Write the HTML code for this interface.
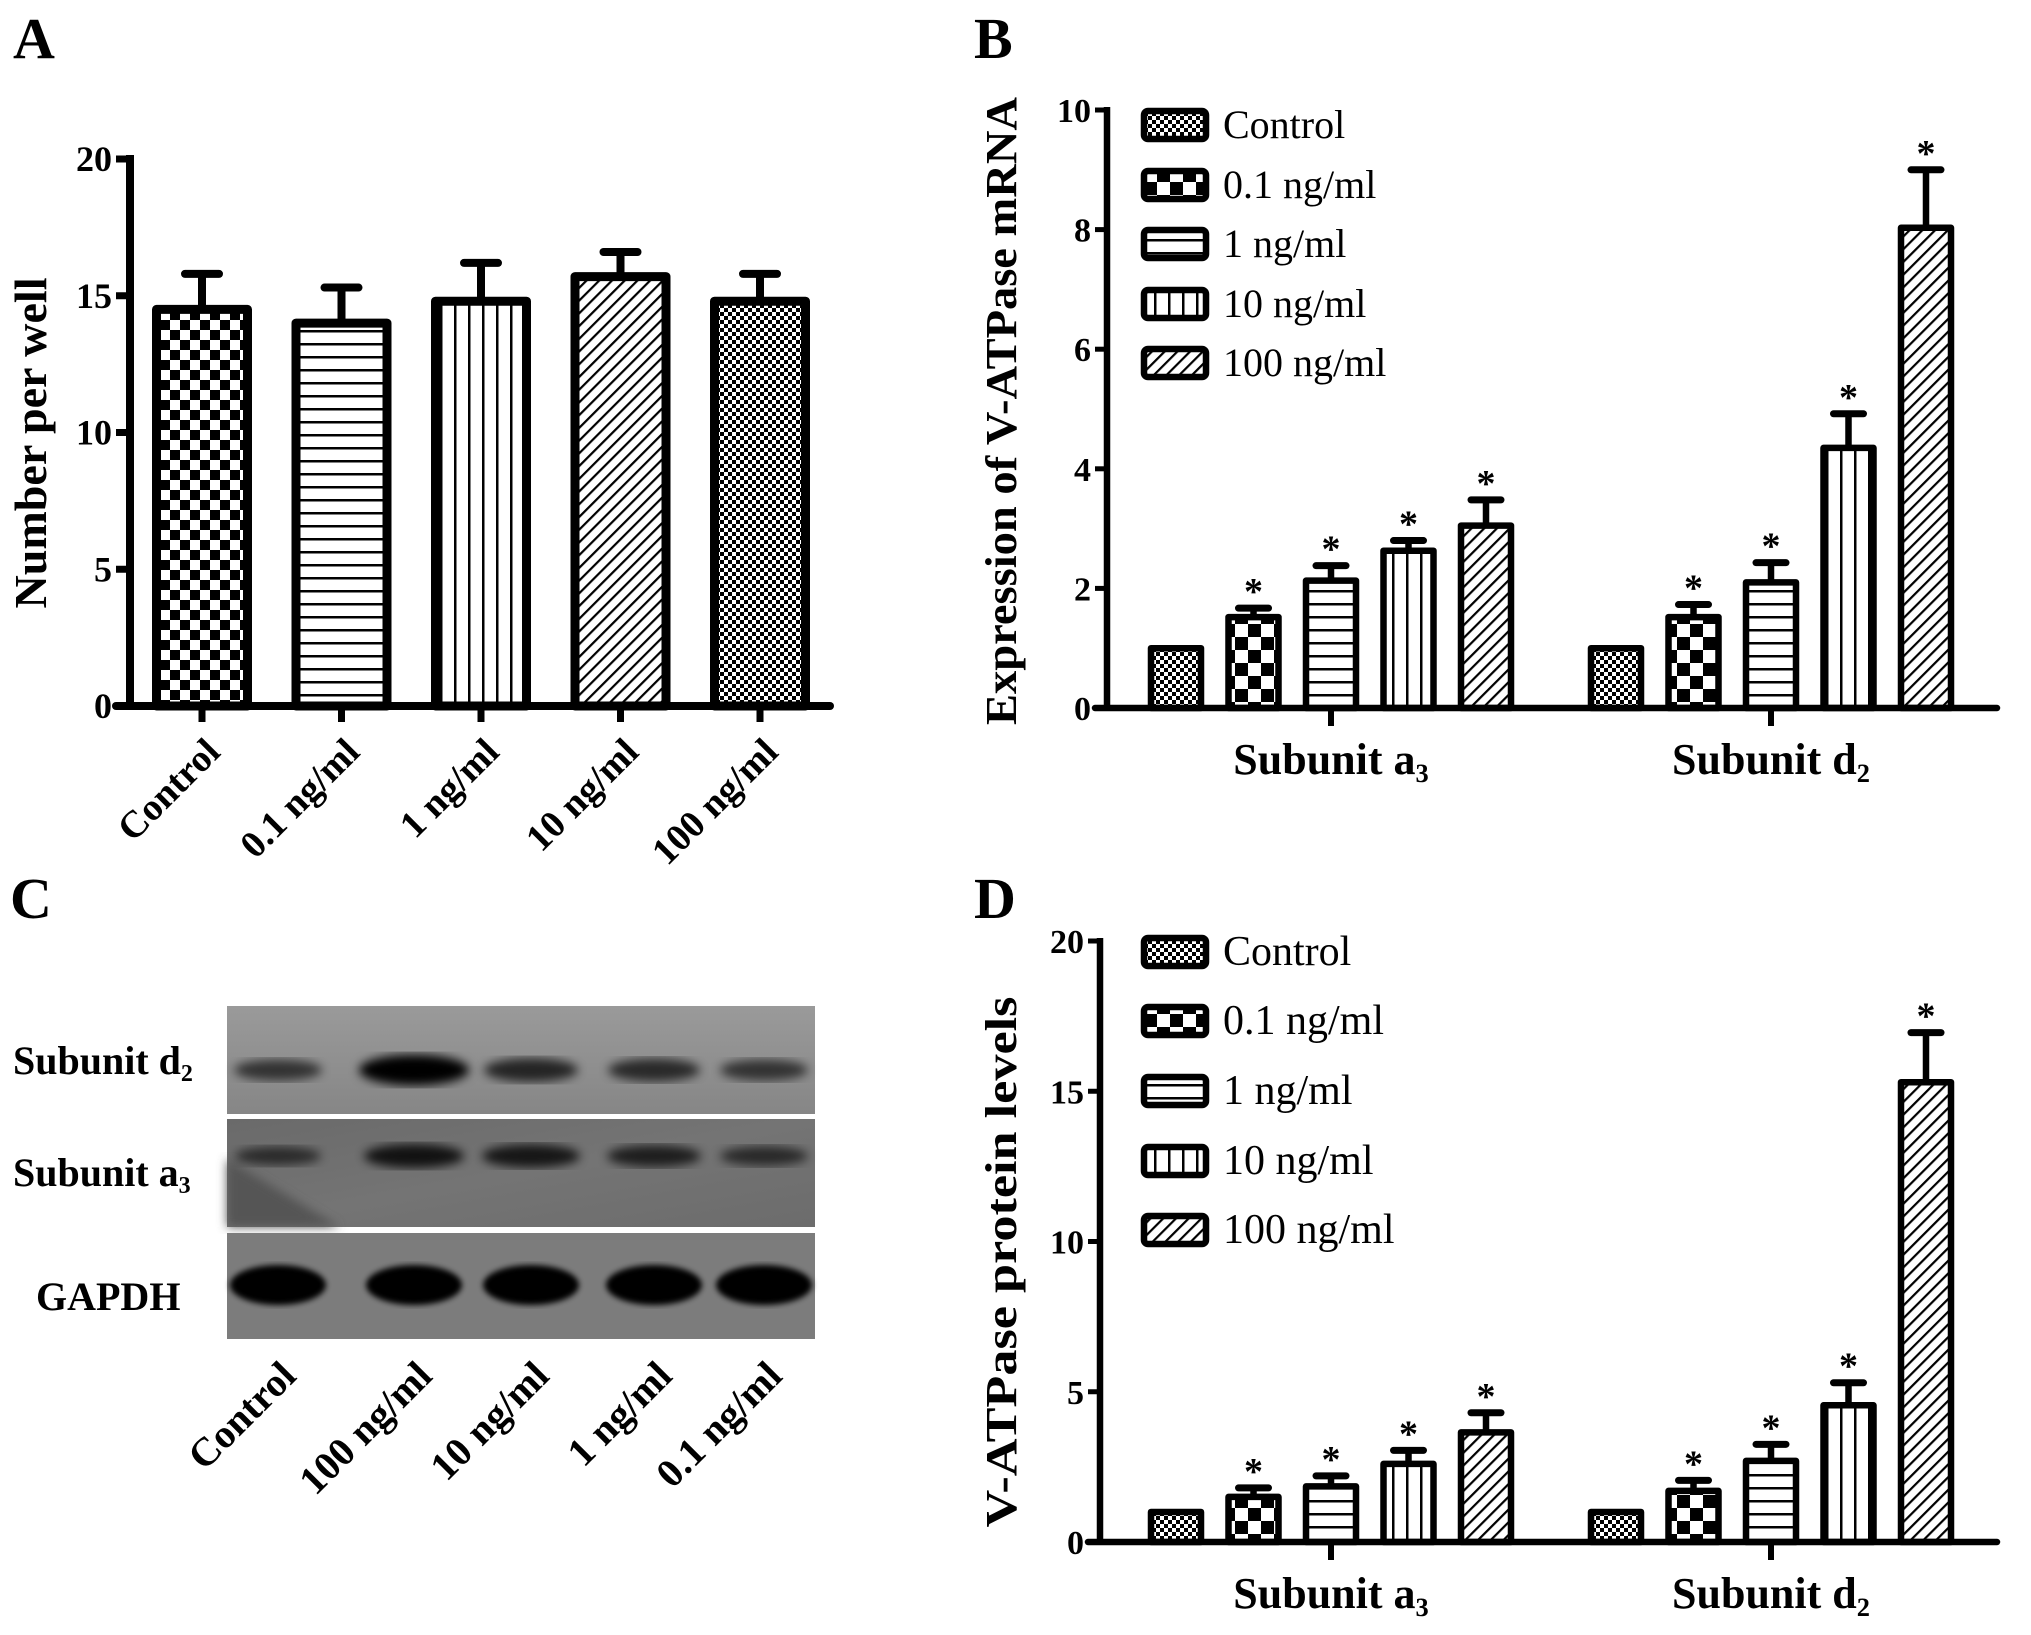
<!DOCTYPE html>
<html><head><meta charset="utf-8">
<style>
html,body{margin:0;padding:0;background:#fff;}
svg{display:block;font-family:"Liberation Serif","DejaVu Serif",serif;}
</style></head>
<body>
<svg id="fig" width="2031" height="1635" viewBox="0 0 2031 1635" xmlns="http://www.w3.org/2000/svg">
<defs>
  <pattern id="checkBig" width="20" height="20" patternUnits="userSpaceOnUse"><rect width="20" height="20" fill="#fff"/><rect width="10" height="10" fill="#000"/><rect x="10" y="10" width="10" height="10" fill="#000"/></pattern>
  <pattern id="checkBig2" width="26" height="26" patternUnits="userSpaceOnUse"><rect width="26" height="26" fill="#fff"/><rect width="13" height="13" fill="#000"/><rect x="13" y="13" width="13" height="13" fill="#000"/></pattern>
  <pattern id="checkFine" width="8" height="8" patternUnits="userSpaceOnUse"><rect width="8" height="8" fill="#fff"/><rect width="4" height="4" fill="#000"/><rect x="4" y="4" width="4" height="4" fill="#000"/></pattern>
  <pattern id="hlines" width="10" height="13" patternUnits="userSpaceOnUse"><rect width="10" height="13" fill="#fff"/><rect y="5" width="10" height="2.5" fill="#000"/></pattern>
  <pattern id="vlines" width="14" height="10" patternUnits="userSpaceOnUse"><rect width="14" height="10" fill="#fff"/><rect x="6" width="2.5" height="10" fill="#000"/></pattern>
  <pattern id="diag" width="9" height="9" patternUnits="userSpaceOnUse" patternTransform="rotate(45)"><rect width="9" height="9" fill="#fff"/><rect width="2.2" height="9" fill="#000"/></pattern>
  <filter id="blur4"><feGaussianBlur stdDeviation="5"/></filter>
  <filter id="blur2"><feGaussianBlur stdDeviation="3"/></filter>
  <linearGradient id="g1" x1="0" y1="0" x2="0" y2="1"><stop offset="0" stop-color="#9a9a9a"/><stop offset="1" stop-color="#868686"/></linearGradient>
  <linearGradient id="g2" x1="0" y1="0" x2="1" y2="1"><stop offset="0" stop-color="#6a6a6a"/><stop offset="0.5" stop-color="#747474"/><stop offset="1" stop-color="#6c6c6c"/></linearGradient>
</defs>
<g id="root"></g>
</svg>
<script>
// ---------- Panel A data ----------
const A_categories = ['Control','0.1 ng/ml','1 ng/ml','10 ng/ml','100 ng/ml'];
const A_values = [14.5, 14.0, 14.8, 15.7, 14.8];
const A_errors = [1.3, 1.3, 1.4, 0.9, 1.0];
const A_ticks = [0, 5, 10, 15, 20];
// ---------- Panel B data ----------
const B_groups = ['a3', 'd2'];
const B_series = ['Control','0.1 ng/ml','1 ng/ml','10 ng/ml','100 ng/ml'];
const B_a3_values = [1.0, 1.52, 2.13, 2.63, 3.05];
const B_a3_errors = [0, 0.15, 0.25, 0.17, 0.43];
const B_d2_values = [1.0, 1.52, 2.1, 4.35, 8.03];
const B_d2_errors = [0, 0.21, 0.33, 0.57, 0.97];
const B_sig = [0, 1, 1, 1, 1];
const B_ticks = [0, 2, 4, 6, 8, 10];
// ---------- Panel D data ----------
const D_a3_values = [1.0, 1.5, 1.85, 2.6, 3.65];
const D_a3_errors = [0, 0.3, 0.35, 0.45, 0.65];
const D_d2_values = [1.0, 1.7, 2.7, 4.55, 15.3];
const D_d2_errors = [0, 0.35, 0.55, 0.75, 1.65];
const D_sig = [0, 1, 1, 1, 1];
const D_ticks = [0, 5, 10, 15, 20];
// ---------- Panel C data ----------
const C_lanes = ['Control','100 ng/ml','10 ng/ml','1 ng/ml','0.1 ng/ml'];
const C_d2_intensity = [0.45, 1.0, 0.6, 0.55, 0.45];
const C_a3_intensity = [0.4, 0.75, 0.7, 0.6, 0.45];
const C_gapdh_intensity = [1, 1, 1, 1, 1];

const NS = 'http://www.w3.org/2000/svg';
const root = document.getElementById('root');
function mk(tag, attrs, parent){
  const e = document.createElementNS(NS, tag);
  for (const k in attrs) e.setAttribute(k, attrs[k]);
  (parent||root).appendChild(e);
  return e;
}
function txt(str, attrs, parent){ const t = mk('text', attrs, parent); t.textContent = str; return t; }
function subText(main, sub, attrs, parent){
  const t = mk('text', attrs, parent);
  t.appendChild(document.createTextNode(main));
  const s = document.createElementNS(NS,'tspan');
  s.setAttribute('font-size','0.6em'); s.setAttribute('dy','0.3em');
  s.textContent = sub; t.appendChild(s);
  return t;
}

[['A',13,58],['B',974,58],['C',10,918],['D',974,918]].forEach(p=>{
  const t = txt(p[0], {x:p[1], y:p[2], 'font-size':58, 'font-weight':'bold'});
  
  
});

// ================= Panel A =================
(function(){
  const g = mk('g', {});
  
  
  const x0 = 130, xEnd = 830, y0 = 706, y20 = 159, vmax = 20;
  const ys = v => y0 - (y0 - y20) * v / vmax;
  const xs = i => 202 + i * 139.5;
  const fills = ['url(#checkBig)','url(#hlines)','url(#vlines)','url(#diag)','url(#checkFine)'];
  A_values.forEach((v,i)=>{
    const c = xs(i), top = ys(v), et = ys(v + A_errors[i]);
    const eb = mk('line', {x1:c, y1:top, x2:c, y2:et, stroke:'#000','stroke-width':8}, g);
    
    
    mk('line', {x1:c-17, y1:et, x2:c+17, y2:et, stroke:'#000','stroke-width':8,'stroke-linecap':'round'}, g);
    const r = mk('rect', {x:c-45.5, y:top, width:91, height:y0-top, fill:fills[i], stroke:'#000','stroke-width':9,'stroke-linejoin':'round'}, g);
    
    
    mk('line', {x1:c, y1:y0, x2:c, y2:y0+16, stroke:'#000','stroke-width':7}, g);
    const lb = txt(A_categories[i], {x:0, y:0, 'font-size':38, 'font-weight':'bold', 'text-anchor':'end', transform:`translate(${c+20},${y0+48}) rotate(-45)`}, g);
    
    
  });
  const ya = mk('line', {x1:x0, y1:y20-4, x2:x0, y2:y0, stroke:'#000','stroke-width':8}, g);
  
  
  const xa = mk('line', {x1:x0-14, y1:y0, x2:xEnd, y2:y0, stroke:'#000','stroke-width':8,'stroke-linecap':'round'}, g);
  
  
  A_ticks.forEach(t=>{
    const y = ys(t);
    mk('line', {x1:x0-14, y1:y, x2:x0, y2:y, stroke:'#000','stroke-width':7}, g);
    const tl = txt(String(t), {x:x0-18, y:y+12, 'font-size':36, 'font-weight':'bold', 'text-anchor':'end'}, g);
    
    
  });
  const yt = txt('Number per well', {x:0, y:0, 'font-size':46, 'font-weight':'bold', 'text-anchor':'middle', textLength:331, lengthAdjust:'spacingAndGlyphs', transform:'translate(46,443) rotate(-90)'}, g);
  
  
})();

// ================= Grouped panels B & D =================
function groupedChart(cfg){
  const g = mk('g', {});
  
  
  const ys = v => cfg.y0 - (cfg.y0 - cfg.yTop) * v / cfg.vmax;
  const fills = ['url(#checkFine)','url(#checkBig2)','url(#hlines)','url(#vlines)','url(#diag)'];
  const groupCenters = [1331, 1771];
  const groups = [[cfg.a3v, cfg.a3e],[cfg.d2v, cfg.d2e]];
  groups.forEach((grp, gi)=>{
    const gc = groupCenters[gi];
    grp[0].forEach((v,i)=>{
      const c = gc + (i-2)*77.5, top = ys(v);
      if (grp[1][i] > 0){
        const et = ys(v + grp[1][i]);
        const eb = mk('line', {x1:c, y1:top, x2:c, y2:et, stroke:'#000','stroke-width':6.5}, g);
        
        
        mk('line', {x1:c-15, y1:et, x2:c+15, y2:et, stroke:'#000','stroke-width':7,'stroke-linecap':'round'}, g);
        if (cfg.sig[i]){
          const s = txt('*', {x:c, y:et-4, 'font-size':38, 'font-weight':'bold', 'text-anchor':'middle'}, g);
          
          
        }
      }
      const r = mk('rect', {x:c-25, y:top, width:50, height:cfg.y0-top, fill:fills[i], stroke:'#000','stroke-width':6.5,'stroke-linejoin':'round'}, g);
      
      
    });
    mk('line', {x1:gc, y1:cfg.y0, x2:gc, y2:cfg.y0+18, stroke:'#000','stroke-width':6}, g);
    const cl = subText('Subunit ' + B_groups[gi][0], B_groups[gi][1], {x:gc, y:cfg.y0+66, 'font-size':44, 'font-weight':'bold', 'text-anchor':'middle'}, g);
    
    
  });
  const x0 = cfg.x0;
  const ya = mk('line', {x1:x0, y1:cfg.yTop-3, x2:x0, y2:cfg.y0, stroke:'#000','stroke-width':6.5}, g);
  
  
  const xa = mk('line', {x1:x0-12, y1:cfg.y0, x2:1997, y2:cfg.y0, stroke:'#000','stroke-width':6.5,'stroke-linecap':'round'}, g);
  
  
  cfg.ticks.forEach(t=>{
    const y = ys(t);
    mk('line', {x1:x0-12, y1:y, x2:x0, y2:y, stroke:'#000','stroke-width':5}, g);
    const tl = txt(String(t), {x:x0-16, y:y+12, 'font-size':34, 'font-weight':'bold', 'text-anchor':'end'}, g);
    
    
  });
  B_series.forEach((s,i)=>{
    const cy = cfg.legY[i];
    const lg = mk('g', {}, g);
    
    
    mk('rect', {x:1144, y:cy-14, width:62, height:28, rx:4, fill:fills[i], stroke:'#000','stroke-width':6.5}, lg);
    txt(s, {x:1223, y:cy+13, 'font-size':cfg.legFont}, lg);
  });
  const yt = txt(cfg.title, {x:0, y:0, 'font-size':44, 'font-weight':'bold', 'text-anchor':'middle', textLength:cfg.titleLen, lengthAdjust:'spacingAndGlyphs', transform:`translate(1016,${cfg.titleY}) rotate(-90)`}, g);
  
  
}
groupedChart({name:'panel-b-chart', prefix:'b', x0:1107, y0:708, yTop:110, vmax:10, ticks:B_ticks,
  a3v:B_a3_values, a3e:B_a3_errors, d2v:B_d2_values, d2e:B_d2_errors, sig:B_sig,
  legY:[125,185,244,304,363], legFont:40, title:'Expression of V-ATPase mRNA', titleLen:628, titleY:411});
groupedChart({name:'panel-d-chart', prefix:'d', x0:1100, y0:1542, yTop:941, vmax:20, ticks:D_ticks,
  a3v:D_a3_values, a3e:D_a3_errors, d2v:D_d2_values, d2e:D_d2_errors, sig:D_sig,
  legY:[952,1021,1091,1161,1230], legFont:42, title:'V-ATPase protein levels', titleLen:531, titleY:1262});

// ================= Panel C (western blot) =================
(function(){
  const g = mk('g', {});
  
  
  const laneX = [278, 414, 531, 654, 764];
  const strips = [
    {y:1006, h:108, fill:'url(#g1)', band:1070, inten:C_d2_intensity, bh:22, name:'d2'},
    {y:1119, h:108, fill:'url(#g2)', band:1156, inten:C_a3_intensity, bh:20, name:'a3'},
    {y:1233, h:106, fill:'#7c7c7c', band:1285, inten:C_gapdh_intensity, bh:40, name:'gapdh'}
  ];
  strips.forEach((s,si)=>{
    const r = mk('rect', {x:227, y:s.y, width:588, height:s.h, fill:s.fill}, g);
    
    
    if (si===1) mk('path', {d:`M227 ${s.y+40} L340 ${s.y+s.h} L227 ${s.y+s.h} Z`, fill:'#555', filter:'url(#blur4)'}, g);
    s.inten.forEach((v,i)=>{
      const isG = si===2;
      const w = isG ? 96 : 70 + 40*v;
      const h = isG ? s.bh : s.bh * (0.6 + 0.8*v);
      const b = mk('ellipse', {cx:laneX[i], cy:s.band, rx:w/2, ry:h/2, fill:'#000', opacity:isG?1:0.35+0.65*v, filter:isG?'url(#blur2)':'url(#blur4)'}, g);
      
      
    });
  });
  const l1 = subText('Subunit d', '2', {x:13, y:1074, 'font-size':40, 'font-weight':'bold'}, g);
  
  
  const l2 = subText('Subunit a', '3', {x:13, y:1186, 'font-size':40, 'font-weight':'bold'}, g);
  
  
  const l3 = txt('GAPDH', {x:36, y:1310, 'font-size':40, 'font-weight':'bold'}, g);
  
  
  C_lanes.forEach((s,i)=>{
    const t = txt(s, {x:0, y:0, 'font-size':40, 'font-weight':'bold', 'text-anchor':'end', transform:`translate(${laneX[i]+20},${1378}) rotate(-45)`}, g);
    
    
  });
})();
</script>
</body></html>
